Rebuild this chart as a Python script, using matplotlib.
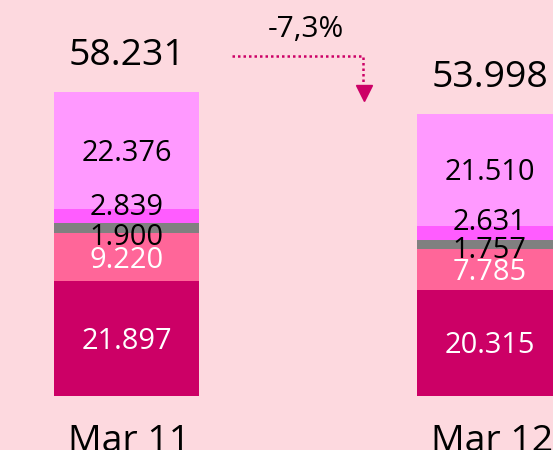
import matplotlib
matplotlib.use("Agg")
import matplotlib.pyplot as plt
import numpy as np

# ---- data ----
categories = ["Mar 11", "Mar 12"]
seg_dark = [21.897, 20.315]     # bottom segment
seg_pink = [9.220, 7.785]
seg_gray = [1.900, 1.757]
seg_magenta = [2.839, 2.631]
seg_light = [22.376, 21.510]    # top segment
totals = [58.231, 53.998]

series = [seg_dark, seg_pink, seg_gray, seg_magenta, seg_light]

# ---- styles ----
colors = ["#CC0066", "#FF6699", "#808080", "#FF5CFF", "#FF99FF"]
text_colors = ["white", "white", "black", "black", "black"]
# vertical pixel offsets of labels for thin segments (positive = up)
label_offsets = {
    (0, 3): 11, (0, 2): -6,
    (1, 3): 13, (1, 2): -3,
}
bg = "#FDD9DF"
accent = "#CC0066"
FONT = ["Open Sans", "DejaVu Sans"]
plt.rcParams["font.family"] = FONT

fig = plt.figure(figsize=(5.53, 4.5), dpi=100, facecolor=bg)
ax = fig.add_axes([0, 0, 1, 1])
ax.set_facecolor(bg)

x = np.arange(len(categories))
bar_w = 0.4
bottoms = np.zeros(len(categories))
for si, vals in enumerate(series):
    vals = np.array(vals)
    ax.bar(x, vals, bottom=bottoms, width=bar_w, color=colors[si], linewidth=0)
    for i in range(len(categories)):
        cy = bottoms[i] + vals[i] / 2
        dy = label_offsets.get((i, si), 0)
        # baseline placed so digit centre sits at segment centre (+offset)
        ax.annotate(f"{vals[i]:.3f}", xy=(x[i], cy), xytext=(0, dy - 10.4),
                    textcoords="offset pixels", ha="center", va="baseline",
                    fontsize=20.9, color=text_colors[si])
    bottoms = bottoms + vals

for i in range(len(categories)):
    ax.annotate(f"{totals[i]:.3f}", xy=(x[i], totals[i]), xytext=(0, 26.7),
                textcoords="offset pixels", ha="center", va="baseline",
                fontsize=26.9, color="black")
    ax.annotate(categories[i], xy=(x[i], 0), xytext=(3, -55),
                textcoords="offset pixels", ha="center", va="baseline",
                fontsize=26.9, color="black")

# change annotation
change = (totals[1] / totals[0] - 1) * 100
change_txt = f"{change:.1f}%".replace(".", ",")
fig.text(305.5 / 553, (450 - 36.8) / 450, change_txt, ha="center", va="baseline",
         fontsize=21.5, color="black")

# dotted elbow arrow (figure pixel coordinates)
px = lambda xx: xx / 553
py = lambda yy: (450 - yy) / 450
fig.add_artist(plt.Line2D([px(231.7), px(363.2), px(363.2)],
                          [py(56), py(56), py(84)],
                          transform=fig.transFigure, color=accent, lw=1.8,
                          linestyle=(0, (1.0, 1.2)), dash_capstyle="butt"))
fig.add_artist(plt.Line2D([px(363.6)], [py(92.9)], transform=fig.transFigure,
                          marker="v", markersize=11.3, color=accent, linestyle="none"))

# axes mapping
ax.set_ylim(-10.40, 75.80)
ax.set_xlim(-126.5 / 363, (553 - 126.5) / 363)
ax.axis("off")

fig.savefig("out.png", dpi=100, facecolor=bg)
